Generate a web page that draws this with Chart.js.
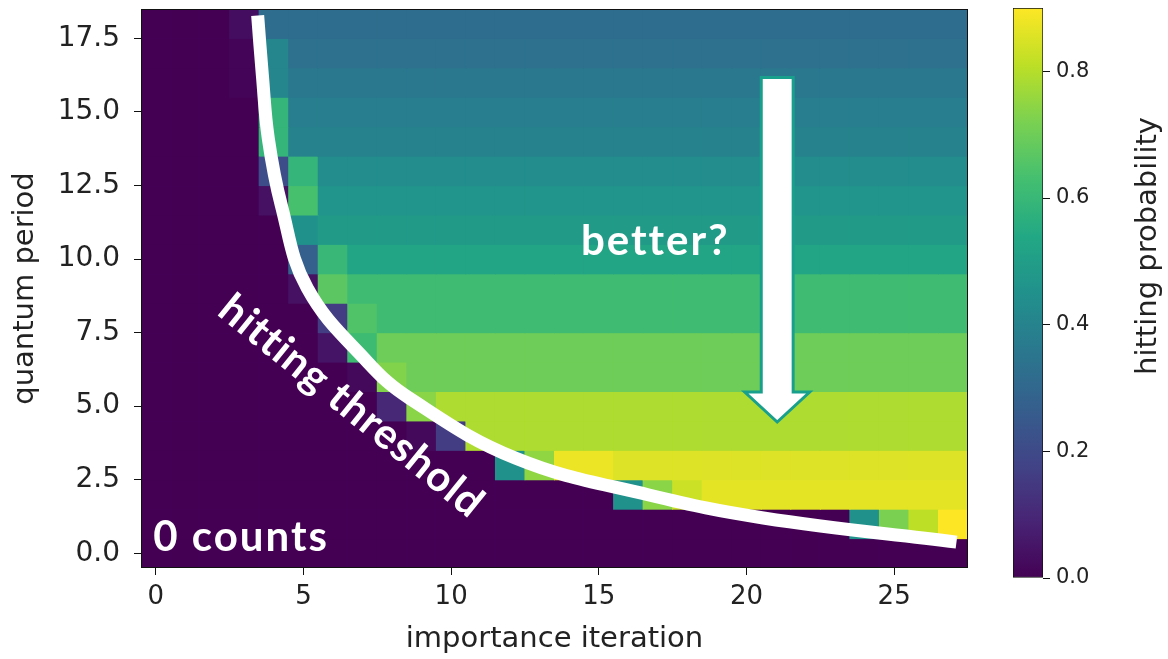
<!DOCTYPE html>
<html>
<head>
<meta charset="utf-8">
<script src="https://cdn.jsdelivr.net/npm/chart.js@4.4.1/dist/chart.umd.min.js"></script>
<style>
  html, body { margin: 0; padding: 0; background: #fff; }
  #wrap { position: relative; width: 1168px; height: 659px; overflow: hidden; }
  #heat { position: absolute; left: 0; top: 0; }
  #cbar { position: absolute; left: 1000px; top: 0; }
</style>
</head>
<body>
<div id="wrap">
  <canvas id="heat" width="1000" height="659"></canvas>
  <canvas id="cbar" width="168" height="659"></canvas>
</div>
<script>
// axes: importance iteration (columns) and quantum period (rows)
const iterations = [0,1,2,3,4,5,6,7,8,9,10,11,12,13,14,15,16,17,18,19,20,21,22,23,24,25,26,27];
const periods = [0,1,2,3,4,5,6,7,8,9,10,11,12,13,14,15,16,17,18];
const xTicks = [0, 5, 10, 15, 20, 25];
const yTicks = [0, 2.5, 5, 7.5, 10, 12.5, 15, 17.5];
const cbTicks = [0, 0.2, 0.4, 0.6, 0.8];
const VMAX = 0.9;

// hitting probability, one array per quantum period
const row0  = [0,0,0,0,0,0,0,0,0,0,0,0,0,0,0,0,0,0,0,0,0,0,0,0,0,0,0,0];
const row1  = [0,0,0,0,0,0,0,0,0,0,0,0,0,0,0,0,0,0,0,0,0,0,0,0,0.45,0.72,0.81,0.90];
const row2  = [0,0,0,0,0,0,0,0,0,0,0,0,0,0,0,0,0.45,0.74,0.83,0.865,0.865,0.865,0.865,0.865,0.865,0.865,0.865,0.865];
const row3  = [0,0,0,0,0,0,0,0,0,0,0,0,0.45,0.75,0.875,0.875,0.855,0.855,0.855,0.855,0.855,0.855,0.855,0.855,0.855,0.855,0.855,0.855];
const row4  = [0,0,0,0,0,0,0,0,0,0.02,0.16,0.79,0.79,0.79,0.79,0.79,0.79,0.79,0.79,0.79,0.79,0.79,0.79,0.79,0.79,0.79,0.79,0.79];
const row5  = [0,0,0,0,0,0,0,0,0.10,0.74,0.79,0.79,0.79,0.79,0.79,0.79,0.79,0.79,0.79,0.79,0.79,0.79,0.79,0.79,0.79,0.79,0.79,0.79];
const row6  = [0,0,0,0,0,0,0,0.02,0.73,0.70,0.70,0.70,0.70,0.70,0.70,0.70,0.70,0.70,0.70,0.70,0.70,0.70,0.70,0.70,0.70,0.70,0.70,0.70];
const row7  = [0,0,0,0,0,0,0.05,0.615,0.70,0.70,0.70,0.70,0.70,0.70,0.70,0.70,0.70,0.70,0.70,0.70,0.70,0.70,0.70,0.70,0.70,0.70,0.70,0.70];
const row8  = [0,0,0,0,0,0,0.16,0.65,0.62,0.62,0.62,0.62,0.62,0.62,0.62,0.62,0.62,0.62,0.62,0.62,0.62,0.62,0.62,0.62,0.62,0.62,0.62,0.62];
const row9  = [0,0,0,0,0,0.04,0.67,0.62,0.62,0.62,0.62,0.62,0.62,0.62,0.62,0.62,0.62,0.62,0.62,0.62,0.62,0.62,0.62,0.62,0.62,0.62,0.62,0.62];
const row10 = [0,0,0,0,0,0.27,0.60,0.53,0.53,0.53,0.53,0.53,0.53,0.53,0.53,0.53,0.53,0.53,0.53,0.53,0.53,0.53,0.53,0.53,0.53,0.53,0.53,0.53];
const row11 = [0,0,0,0,0,0.45,0.49,0.49,0.49,0.49,0.49,0.49,0.49,0.49,0.49,0.49,0.49,0.49,0.49,0.49,0.49,0.49,0.49,0.49,0.49,0.49,0.49,0.49];
const row12 = [0,0,0,0,0.04,0.635,0.46,0.46,0.46,0.46,0.46,0.46,0.46,0.46,0.46,0.46,0.46,0.46,0.46,0.46,0.46,0.46,0.46,0.46,0.46,0.46,0.46,0.46];
const row13 = [0,0,0,0,0.21,0.59,0.436,0.436,0.436,0.436,0.436,0.436,0.436,0.436,0.436,0.436,0.436,0.436,0.436,0.436,0.436,0.436,0.436,0.436,0.436,0.436,0.436,0.436];
const row14 = [0,0,0,0,0.59,0.40,0.40,0.40,0.40,0.40,0.40,0.40,0.40,0.40,0.40,0.40,0.40,0.40,0.40,0.40,0.40,0.40,0.40,0.40,0.40,0.40,0.40,0.40];
const row15 = [0,0,0,0,0.59,0.38,0.38,0.38,0.38,0.38,0.38,0.38,0.38,0.38,0.38,0.38,0.38,0.38,0.38,0.38,0.38,0.38,0.38,0.38,0.38,0.38,0.38,0.38];
const row16 = [0,0,0,0.01,0.41,0.36,0.36,0.36,0.36,0.36,0.36,0.36,0.36,0.36,0.36,0.36,0.36,0.36,0.36,0.36,0.36,0.36,0.36,0.36,0.36,0.36,0.36,0.36];
const row17 = [0,0,0,0.01,0.41,0.335,0.335,0.335,0.335,0.335,0.335,0.335,0.335,0.335,0.335,0.335,0.335,0.335,0.335,0.335,0.335,0.335,0.335,0.335,0.335,0.335,0.335,0.335];
const row18 = [0,0,0,0.03,0.32,0.32,0.32,0.32,0.32,0.32,0.32,0.32,0.32,0.32,0.32,0.32,0.32,0.32,0.32,0.32,0.32,0.32,0.32,0.32,0.32,0.32,0.32,0.32];
const rows = [row0,row1,row2,row3,row4,row5,row6,row7,row8,row9,row10,row11,row12,row13,row14,row15,row16,row17,row18];

// hand-drawn "hitting threshold" curve, in data units
const thresholdX = [3.45, 3.61, 3.81, 4.25, 5.13, 7.17, 8.59, 12.19, 16.70, 20.57, 27.11];
const thresholdY = [18.28, 16.24, 14.10, 11.83, 9.01, 6.50, 5.27, 3.23, 1.98, 1.20, 0.38];

// annotation anchors, in data units
const ARROW = { x: 21.04, top: 16.17, base: 5.48, tip: 4.46, shaft: 0.54, head: 1.10 };
const NOTES = [
  { text: 'better?', x: 16.91, y: 10.6, rot: 0, gap: 2 },
  { text: '0 counts', x: 2.89, y: 0.55, rot: 0, gap: 2 },
  { text: 'hitting threshold', x: 6.62, y: 5.0, rot: 39, gap: 1 }
];

const VIRIDIS = ['#440154','#482475','#414487','#355f8d','#2a788e','#21918c','#22a884','#44bf70','#7ad151','#bddf26','#fde725'];
function hex(h) { return [1,3,5].map(i => parseInt(h.substr(i, 2), 16)); }
function viridis(t) {
  t = Math.max(0, Math.min(1, t));
  const f = t * 10, i = Math.min(9, Math.floor(f)), k = f - i;
  const a = hex(VIRIDIS[i]), b = hex(VIRIDIS[i + 1]);
  const c = a.map((v, j) => Math.round(v + (b[j] - v) * k));
  return `rgb(${c[0]},${c[1]},${c[2]})`;
}

const cells = [];
rows.forEach((row, r) => row.forEach((v, c) => cells.push({ x: iterations[c], y: periods[r], v: v })));
const curve = thresholdX.map((x, i) => ({ x: x, y: thresholdY[i] }));

const TXT = '#222';
const FONT = 'DejaVu Sans';

function cellPx(chart) {
  const s = chart.scales.x;
  return Math.abs(s.getPixelForValue(1) - s.getPixelForValue(0));
}

// keep the plot box where it is: no extra room for half tick labels
function noPad(s) {
  s.paddingTop = 0; s.paddingBottom = 0; s.paddingLeft = 0; s.paddingRight = 0;
}

const notesPlugin = {
  id: 'notes',
  afterDatasetsDraw(chart) {
    const { ctx, chartArea: a, scales: { x, y } } = chart;
    ctx.save();
    // frame
    ctx.strokeStyle = '#111';
    ctx.lineWidth = 1;
    ctx.strokeRect(a.left + 0.5, a.top + 0.5, a.width - 1, a.height - 1);

    // arrow
    const xc = x.getPixelForValue(ARROW.x);
    const sw = x.getPixelForValue(ARROW.x + ARROW.shaft) - xc;
    const hw = x.getPixelForValue(ARROW.x + ARROW.head) - xc;
    const yt = y.getPixelForValue(ARROW.top), yb = y.getPixelForValue(ARROW.base), yp = y.getPixelForValue(ARROW.tip);
    ctx.beginPath();
    ctx.moveTo(xc - sw, yt);
    ctx.lineTo(xc + sw, yt);
    ctx.lineTo(xc + sw, yb);
    ctx.lineTo(xc + hw, yb);
    ctx.lineTo(xc, yp);
    ctx.lineTo(xc - hw, yb);
    ctx.lineTo(xc - sw, yb);
    ctx.closePath();
    ctx.fillStyle = '#fff';
    ctx.fill();
    ctx.strokeStyle = '#19a08d';
    ctx.lineWidth = 3;
    ctx.lineJoin = 'miter';
    ctx.stroke();

    // white labels
    ctx.fillStyle = '#fff';
    ctx.font = 'bold 42px Lato';
    ctx.textAlign = 'center';
    ctx.textBaseline = 'middle';
    NOTES.forEach(n => {
      ctx.save();
      ctx.letterSpacing = n.gap + 'px';
      ctx.translate(x.getPixelForValue(n.x), y.getPixelForValue(n.y));
      ctx.rotate(n.rot * Math.PI / 180);
      ctx.fillText(n.text, 0, 0);
      ctx.restore();
    });
    ctx.restore();
  }
};

new Chart(document.getElementById('heat'), {
  data: {
    datasets: [
      {
        type: 'scatter',
        data: cells,
        pointStyle: 'rect',
        radius: ctx => cellPx(ctx.chart) * 0.73,
        backgroundColor: ctx => viridis(ctx.raw.v / VMAX),
        borderWidth: 0,
        clip: 0,
        order: 2
      },
      {
        type: 'line',
        data: curve,
        borderColor: '#fff',
        borderWidth: 13,
        borderCapStyle: 'butt',
        pointRadius: 0,
        tension: 0.4,
        fill: false,
        clip: 0,
        order: 1
      }
    ]
  },
  options: {
    responsive: false,
    animation: false,
    events: [],
    layout: { padding: { top: 9, right: 32, left: 0, bottom: 0 } },
    plugins: { legend: { display: false }, tooltip: { enabled: false } },
    scales: {
      x: {
        type: 'linear', min: -0.5, max: 27.5,
        afterBuildTicks: s => { s.ticks = xTicks.map(v => ({ value: v })); },
        afterFit: s => { s.height = 91; noPad(s); },
        grid: { drawOnChartArea: false, tickLength: 7, tickColor: '#111' },
        border: { display: false },
        ticks: { color: TXT, font: { family: FONT, size: 26 }, padding: 7, callback: v => String(v) },
        title: { display: true, text: 'importance iteration', color: TXT, font: { family: FONT, size: 29 }, padding: { top: 0, bottom: 2 } }
      },
      y: {
        type: 'linear', min: -0.5, max: 18.5,
        afterBuildTicks: s => { s.ticks = yTicks.map(v => ({ value: v })); },
        afterFit: s => { s.width = 141; noPad(s); },
        grid: { drawOnChartArea: false, tickLength: 7, tickColor: '#111' },
        border: { display: false },
        ticks: { color: TXT, font: { family: FONT, size: 28 }, padding: 14, callback: v => v.toFixed(1) },
        title: { display: true, text: 'quantum period', color: TXT, font: { family: FONT, size: 29 }, padding: { top: 8, bottom: 0 } }
      }
    }
  },
  plugins: [notesPlugin]
});

// colour bar
const cbTitlePlugin = {
  id: 'cbTitle',
  afterDraw(chart) {
    const { ctx } = chart;
    ctx.save();
    ctx.translate(148, 246);
    ctx.rotate(-Math.PI / 2);
    ctx.fillStyle = TXT;
    ctx.font = `29px ${FONT}`;
    ctx.textAlign = 'center';
    ctx.textBaseline = 'middle';
    ctx.fillText('hitting probability', 0, 0);
    ctx.restore();
  }
};

new Chart(document.getElementById('cbar'), {
  type: 'bar',
  data: {
    labels: [''],
    datasets: [{
      data: [[0, VMAX]],
      backgroundColor: ctx => {
        const a = ctx.chart.chartArea;
        if (!a || !isFinite(a.top) || !isFinite(a.bottom)) return VIRIDIS[5];
        const g = ctx.chart.ctx.createLinearGradient(0, a.bottom, 0, a.top);
        VIRIDIS.forEach((c, i) => g.addColorStop(i / (VIRIDIS.length - 1), c));
        return g;
      },
      borderColor: '#111',
      borderWidth: 1,
      borderSkipped: false,
      barPercentage: 1,
      categoryPercentage: 1
    }]
  },
  options: {
    responsive: false,
    animation: false,
    events: [],
    layout: { padding: { top: 8, left: 13, bottom: 81, right: 0 } },
    plugins: { legend: { display: false }, tooltip: { enabled: false } },
    scales: {
      x: { display: false },
      y: {
        position: 'right', min: 0, max: VMAX,
        afterBuildTicks: s => { s.ticks = cbTicks.map(v => ({ value: v })); },
        afterFit: s => { s.width = 125; noPad(s); },
        grid: { drawOnChartArea: false, tickLength: 7, tickColor: '#111' },
        border: { display: false },
        ticks: { color: TXT, font: { family: FONT, size: 21 }, padding: 6, callback: v => v.toFixed(1) }
      }
    }
  },
  plugins: [cbTitlePlugin]
});
</script>
</body>
</html>
